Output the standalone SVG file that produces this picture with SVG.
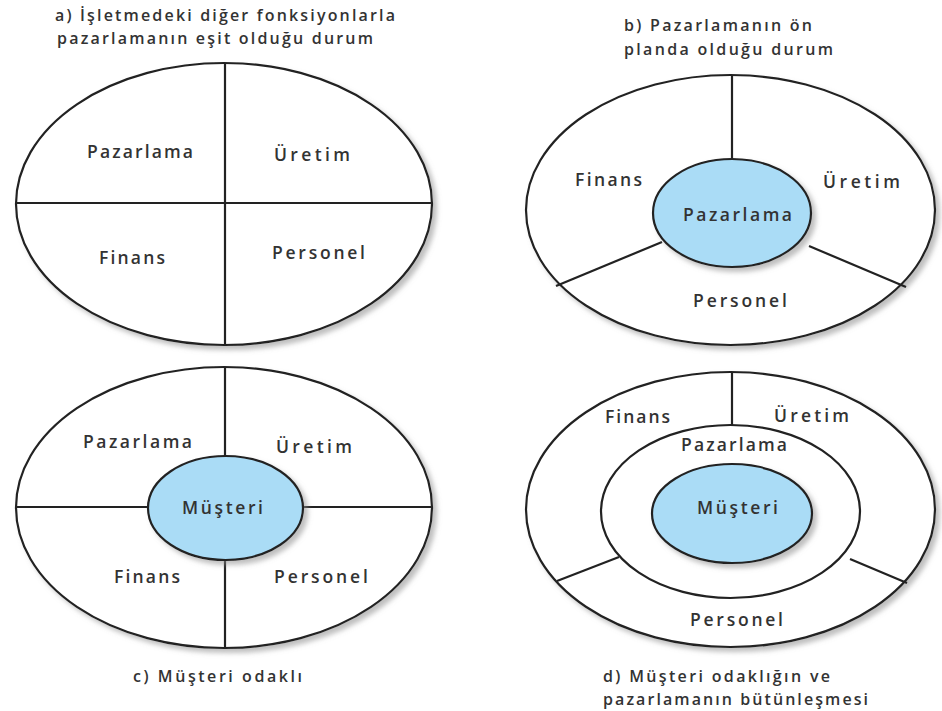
<svg xmlns="http://www.w3.org/2000/svg" width="942" height="711" viewBox="0 0 942 711">
<defs>
<filter id="sh" x="-10%" y="-10%" width="125%" height="125%">
<feDropShadow dx="4" dy="4" stdDeviation="2.5" flood-color="#8a8a8a" flood-opacity="0.55"/>
</filter>
<style>
.outer{fill:#fff;stroke:#222;stroke-width:2.2;filter:url(#sh)}
.ring{fill:#fff;stroke:#222;stroke-width:2.2}
.core{fill:#aadcf6;stroke:#222;stroke-width:2.2;filter:url(#sh)}
.div{stroke:#222;stroke-width:2.2;fill:none}
.lbl{font-family:"Open Sans","Liberation Sans",sans-serif;font-size:17.5px;fill:#333;font-weight:600}
.ttl{font-family:"Open Sans","Liberation Sans",sans-serif;font-size:16px;fill:#333;font-weight:600}
</style>
</defs>
<rect width="942" height="711" fill="#fff"/>

<!-- Panel A -->
<g id="panel-a">
<text class="ttl" x="55" y="21" textLength="340" lengthAdjust="spacing">a) İşletmedeki diğer fonksiyonlarla</text>
<text class="ttl" x="57" y="44" textLength="316" lengthAdjust="spacing">pazarlamanın eşit olduğu durum</text>
<ellipse class="outer" cx="224" cy="204" rx="208" ry="141"/>
</g>
<!-- Panel B -->
<g id="panel-b">
<text class="ttl" x="624" y="31" textLength="188" lengthAdjust="spacing">b) Pazarlamanın ön</text>
<text class="ttl" x="624" y="55" textLength="209" lengthAdjust="spacing">planda olduğu durum</text>
<ellipse class="outer" cx="730.5" cy="210" rx="204.5" ry="135"/>
</g>
<!-- Panel C -->
<g id="panel-c">
<ellipse class="outer" cx="224" cy="507.5" rx="208" ry="140.5"/>
<text class="ttl" x="133" y="682" textLength="169" lengthAdjust="spacing">c) Müşteri odaklı</text>
</g>
<!-- Panel D -->
<g id="panel-d">
<ellipse class="outer" cx="730.5" cy="509.5" rx="204.5" ry="137.5"/>
<text class="ttl" x="603" y="682" textLength="227" lengthAdjust="spacing">d) Müşteri odaklığın ve</text>
<text class="ttl" x="603" y="705" textLength="265" lengthAdjust="spacing">pazarlamanın bütünleşmesi</text>
</g>

<g id="connectors">
<!-- a -->
<line class="div" x1="225" y1="63" x2="225" y2="345"/>
<line class="div" x1="16" y1="203" x2="432" y2="203"/>
<!-- b -->
<line class="div" x1="732" y1="75" x2="732" y2="159"/>
<line class="div" x1="556" y1="286" x2="662" y2="242"/>
<line class="div" x1="809" y1="246" x2="906" y2="287"/>
<!-- c -->
<line class="div" x1="225" y1="367" x2="225" y2="456"/>
<line class="div" x1="225" y1="560" x2="225" y2="648"/>
<line class="div" x1="16" y1="507" x2="148" y2="507"/>
<line class="div" x1="303" y1="507" x2="432" y2="507"/>
<!-- d -->
<line class="div" x1="732" y1="372" x2="732" y2="425"/>
<line class="div" x1="557" y1="581" x2="619" y2="557"/>
<line class="div" x1="850" y1="559" x2="907" y2="583"/>
</g>

<!-- Panel A nodes -->
<g id="a-pazarlama"><text class="lbl" x="87" y="158" textLength="106" lengthAdjust="spacing">Pazarlama</text></g>
<g id="a-uretim"><text class="lbl" x="274" y="161" textLength="76" lengthAdjust="spacing">Üretim</text></g>
<g id="a-finans"><text class="lbl" x="99" y="264" textLength="66" lengthAdjust="spacing">Finans</text></g>
<g id="a-personel"><text class="lbl" x="272" y="259" textLength="93" lengthAdjust="spacing">Personel</text></g>

<!-- Panel B nodes -->
<g id="b-pazarlama">
<ellipse class="core" cx="732" cy="213" rx="79" ry="54"/>
<text class="lbl" x="683" y="221" textLength="109" lengthAdjust="spacing">Pazarlama</text>
</g>
<g id="b-finans"><text class="lbl" x="575" y="186" textLength="67" lengthAdjust="spacing">Finans</text></g>
<g id="b-uretim"><text class="lbl" x="823" y="188" textLength="77" lengthAdjust="spacing">Üretim</text></g>
<g id="b-personel"><text class="lbl" x="693" y="307" textLength="94" lengthAdjust="spacing">Personel</text></g>

<!-- Panel C nodes -->
<g id="c-musteri">
<ellipse class="core" cx="225.5" cy="508" rx="77.5" ry="52"/>
<text class="lbl" x="182" y="514" textLength="81" lengthAdjust="spacing">Müşteri</text>
</g>
<g id="c-pazarlama"><text class="lbl" x="83" y="448" textLength="109" lengthAdjust="spacing">Pazarlama</text></g>
<g id="c-uretim"><text class="lbl" x="276" y="453" textLength="76" lengthAdjust="spacing">Üretim</text></g>
<g id="c-finans"><text class="lbl" x="114" y="583" textLength="66" lengthAdjust="spacing">Finans</text></g>
<g id="c-personel"><text class="lbl" x="274" y="583" textLength="94" lengthAdjust="spacing">Personel</text></g>

<!-- Panel D nodes -->
<g id="d-pazarlama">
<ellipse class="ring" cx="730.5" cy="511.5" rx="129.5" ry="86.5"/>
<text class="lbl" x="681" y="451" textLength="106" lengthAdjust="spacing">Pazarlama</text>
</g>
<g id="d-musteri">
<ellipse class="core" cx="732" cy="513.5" rx="80" ry="49.5"/>
<text class="lbl" x="697" y="514" textLength="81" lengthAdjust="spacing">Müşteri</text>
</g>
<g id="d-finans"><text class="lbl" x="605" y="423" textLength="65" lengthAdjust="spacing">Finans</text></g>
<g id="d-uretim"><text class="lbl" x="774" y="422" textLength="75" lengthAdjust="spacing">Üretim</text></g>
<g id="d-personel"><text class="lbl" x="690" y="626" textLength="93" lengthAdjust="spacing">Personel</text></g>
</svg>
